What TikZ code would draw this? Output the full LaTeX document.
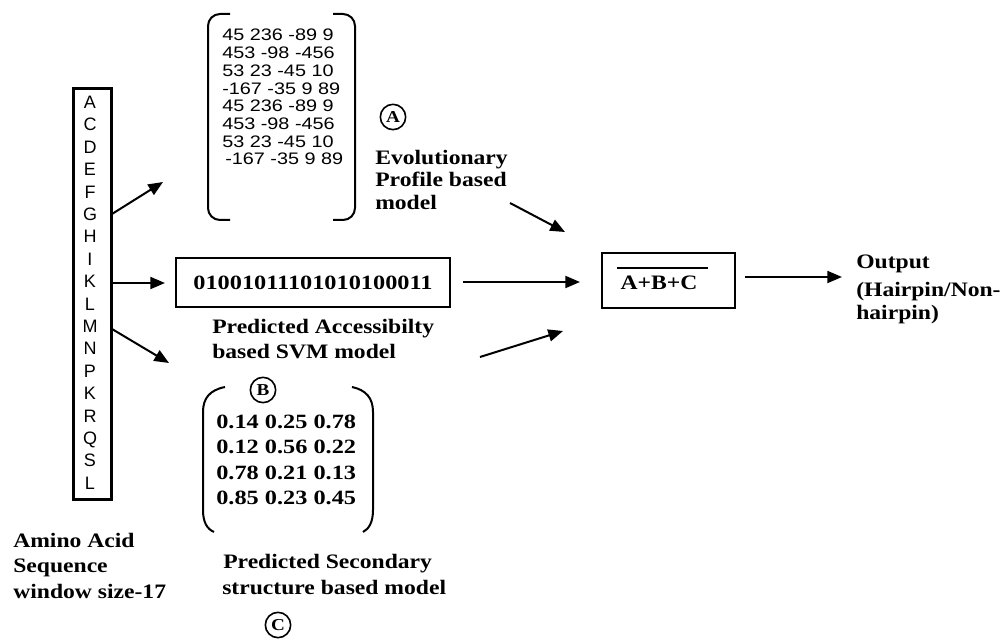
\documentclass[tikz,border=0pt]{standalone}
\usepackage{fontspec}
\usetikzlibrary{arrows.meta,calc}
\newfontfamily\lblfont{Liberation Serif}[FakeStretch=1.15]
\newfontfamily\digfont{Liberation Serif}[FakeStretch=1.2]
\newfontfamily\numfont{Liberation Sans}[FakeStretch=1.19]
\newfontfamily\seqfont{Liberation Sans}
\newcommand\pxu{0.75pt}

\begin{document}
\begin{tikzpicture}[x=0.75pt,y=-0.75pt,
  lbl/.style={anchor=base west,inner sep=0pt,
    font=\lblfont\bfseries\fontsize{15.4}{18}\selectfont},
  matA/.style={anchor=base west,inner sep=0pt,
    font=\numfont\fontsize{12.5}{14}\selectfont},
  matB/.style={anchor=base west,inner sep=0pt,
    font=\digfont\bfseries\fontsize{15.2}{18}\selectfont},
  seqch/.style={anchor=base,inner sep=0pt,
    font=\seqfont\fontsize{13.5}{15}\selectfont},
  tag/.style={draw,circle,line width=1.2pt,inner sep=0pt,
    minimum size=19pt,font=\lblfont\bfseries\fontsize{12.5}{13}\selectfont},
  arr/.style={line width=1.5pt,-{Triangle[length=11pt,width=9pt]}},
  brk/.style={line width=1.5pt},
]
\useasboundingbox (0,0) rectangle (1000,641);

% amino acid window
\node[draw,line width=2.25pt,minimum width=38*\pxu,minimum height=411*\pxu,
  inner sep=0pt] (seq) at (92,294.5) {};
\foreach \ch [count=\i from 0] in {A,C,D,E,F,G,H,I,K,L,M,N,P,K,R,Q,S,L}
  \node[seqch] (ch\i) at (90,{108.5+22.4*\i}) {\ch};

\node[lbl] (ami1) at (13,547.5) {Amino Acid};
\node[lbl] (ami2) at (13,572.5) {Sequence};
\node[lbl] (ami3) at (13,598.5) {window size-17};

% evolutionary profile matrix
\draw[brk,rounded corners=9pt] (230,14) -- (208,14) -- (208,220) -- (230,220);
\draw[brk,rounded corners=9pt] (333,14) -- (355,14) -- (355,220) -- (333,220);
\foreach \row [count=\i from 0] in
  {45 236 -89 9,453 -98 -456,53 23 -45 10,-167 -35 9 89,
   45 236 -89 9,453 -98 -456,53 23 -45 10}
  \node[matA] (pa\i) at (222,{41+17.7*\i}) {\row};
\node[matA] (pa7) at (225,164.9) {-167 -35 9 89};

\node[tag] (cA) at (393,117) {A};
\node[lbl] (evo1) at (375,164.5) {Evolutionary};
\node[lbl] (evo2) at (375,186.5) {Profile based};
\node[lbl] (evo3) at (375,209.5) {model};

% accessibility vector
\node[draw,line width=1.5pt,minimum width=274*\pxu,minimum height=49*\pxu,
  inner sep=0pt,font=\digfont\bfseries\fontsize{15.2}{18}\selectfont]
  (acc) at (313,282.5) {01001011101010100011};
\node[lbl] (acc1) at (212,333.5) {Predicted Accessibilty};
\node[lbl] (acc2) at (212,358.5) {based SVM model};

% secondary structure matrix
\draw[brk] (225,387) .. controls (210,390) and (203,398) .. (203,412)
  -- (203,510) .. controls (203,522) and (207,529) .. (214,532);
\draw[brk] (352,387) .. controls (366,390) and (373,398) .. (373,412)
  -- (373,510) .. controls (373,522) and (369,529) .. (363,532);
\node[tag] (cB) at (263,390) {B};
\foreach \row [count=\i from 0] in
  {0.14 0.25 0.78,0.12 0.56 0.22,0.78 0.21 0.13,0.85 0.23 0.45}
  \node[matB] (pb\i) at (216,{428.5+25.4*\i}) {\row};
\node[lbl] (sec1) at (223,568.5) {Predicted Secondary};
\node[lbl] (sec2) at (222,594.5) {structure based model};
\node[tag] (cC) at (278,625) {C};

% combiner
\node[draw,line width=1.8pt,minimum width=133*\pxu,minimum height=55*\pxu,
  inner sep=0pt] (comb) at (668.5,280.5) {};
\node[inner sep=0pt,font=\lblfont\bfseries\fontsize{15.4}{18}\selectfont]
  (abc) at (659,283) {A+B+C};
\draw[line width=1.5pt] ($(abc.center)+(-42,-15)$) -- ($(abc.center)+(49,-15)$);

\node[lbl] (out1) at (856,268.5) {Output};
\node[lbl] (out2) at (856,296.5) {(Hairpin/Non-};
\node[lbl] (out3) at (856,319.5) {hairpin)};

% connectors
\coordinate (t1s) at (112,214); \coordinate (t1e) at (163,182);
\coordinate (t2s) at (112,283); \coordinate (t2e) at (165,283);
\coordinate (t3s) at (112,329); \coordinate (t3e) at (169,363);
\coordinate (m1s) at (463,282); \coordinate (m1e) at (580,282);
\coordinate (e1s) at (510,203); \coordinate (e1e) at (565,232);
\coordinate (s1s) at (480,357); \coordinate (s1e) at (563,331);
\coordinate (o1s) at (745,277); \coordinate (o1e) at (842,277);
\draw[arr] (t1s) -- (t1e);
\draw[arr] (t2s) -- (t2e);
\draw[arr] (t3s) -- (t3e);
\draw[arr] (m1s) -- (m1e);
\draw[arr] (e1s) -- (e1e);
\draw[arr] (s1s) -- (s1e);
\draw[arr] (o1s) -- (o1e);
\end{tikzpicture}
\end{document}
